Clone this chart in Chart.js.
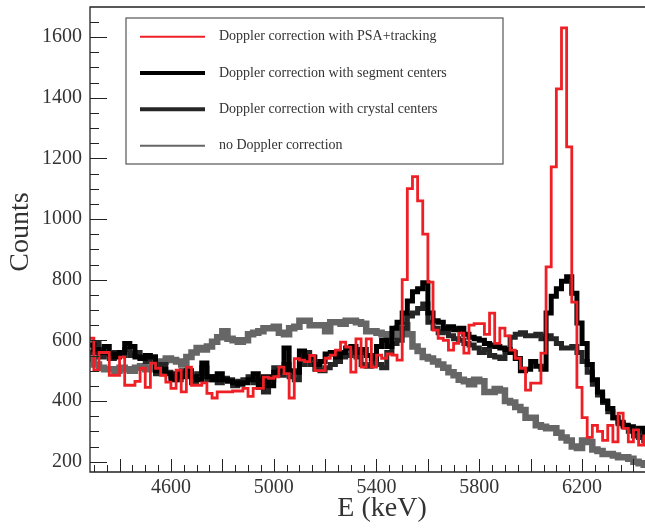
<!DOCTYPE html>
<html>
<head>
<meta charset="utf-8">
<script src="https://cdn.jsdelivr.net/npm/chart.js@4.4.0/dist/chart.umd.min.js"></script>
<style>
  html, body { margin: 0; padding: 0; background: #fff; }
  #wrap { width: 645px; height: 529px; }
</style>
</head>
<body>
<div id="wrap"><canvas id="myChart" width="645" height="529"></canvas></div>
<script>
// histogram binning (keV)
const binStart = 4280;
const binWidth = 20;

const labels = [
    'Doppler correction with PSA+tracking',
    'Doppler correction with segment centers',
    'Doppler correction with crystal centers',
    'no Doppler correction'
];

const psaCounts = [
    607, 502, 560, 560, 485, 485, 545, 452, 452, 465,
    508, 445, 525, 508, 485, 462, 442, 502, 430, 512,
    452, 452, 460, 425, 410, 430, 430, 430, 433, 433,
    442, 415, 442, 442, 479, 475, 480, 512, 490, 410,
    540, 535, 530, 550, 500, 500, 541, 551, 568, 594,
    578, 495, 605, 512, 605, 512, 551, 541, 555, 551,
    535, 800, 1100, 1140, 1060, 950, 792, 634, 607, 600,
    568, 590, 624, 558, 650, 655, 655, 620, 690, 590,
    640, 615, 568, 541, 508, 436, 459, 459, 558, 842,
    1172, 1429, 1630, 1238, 726, 445, 345, 280, 320, 300,
    270, 320, 265, 360, 310, 265, 305, 255, 285
];

const segmentCounts = [
    585, 570, 560, 580, 555, 545, 560, 590, 580, 545,
    540, 550, 545, 500, 505, 490, 470, 490, 480, 500,
    480, 470, 525, 480, 470, 490, 470, 465, 460, 455,
    460, 470, 490, 445, 480, 450, 495, 500, 575, 500,
    495, 565, 540, 545, 520, 530, 555, 560, 545, 560,
    575, 580, 560, 570, 550, 540, 580, 600, 580, 640,
    660, 690, 730, 760, 770, 790, 690, 665, 660, 640,
    645, 635, 640, 620, 610, 605, 600, 590, 585, 580,
    575, 570, 560, 540, 500, 505, 530, 515, 505, 690,
    745, 770, 795, 810, 755, 657, 590, 520, 470, 430,
    400, 375, 345, 330, 320, 315, 300, 310, 290
];

const crystalCounts = [
    560, 590, 545, 555, 540, 560, 550, 570, 550, 560,
    540, 530, 545, 490, 520, 495, 480, 470, 500, 485,
    460, 490, 510, 470, 480, 460, 475, 470, 450, 465,
    470, 480, 460, 470, 430, 470, 510, 485, 520, 480,
    470, 520, 560, 520, 505, 500, 510, 520, 530, 545,
    550, 560, 545, 520, 515, 530, 520, 510, 560, 590,
    600, 640, 680, 690, 705, 720, 660, 640, 625, 630,
    615, 605, 600, 590, 585, 575, 560, 570, 550, 545,
    540, 560, 610, 620, 625, 615, 615, 620, 605, 615,
    605, 590, 575, 575, 580, 560, 530, 495, 455, 420,
    395, 365, 345, 325, 315, 300, 285, 280, 270
];

const noDopplerCounts = [
    540, 520, 510, 505, 505, 500, 510, 505, 500, 510,
    515, 505, 510, 520, 530, 540, 535, 530, 520, 545,
    560, 575, 570, 580, 595, 610, 630, 605, 600, 595,
    600, 620, 625, 630, 640, 640, 645, 625, 620, 640,
    645, 665, 665, 650, 650, 650, 630, 660, 660, 655,
    665, 665, 660, 655, 630, 630, 625, 620, 610, 610,
    640, 650, 620, 580, 565, 545, 540, 530, 520, 510,
    495, 485, 470, 465, 455, 470, 465, 430, 430, 440,
    435, 400, 395, 380, 370, 345, 345, 320, 315, 310,
    310, 295, 280, 270, 250, 245, 270, 265, 240, 235,
    225, 225, 220, 215, 215, 210, 200, 195, 190
];

const xTickLabels = [4600, 5000, 5400, 5800, 6200];
const yTickLabels = [200, 400, 600, 800, 1000, 1200, 1400, 1600];

const colors = ['#ee2026', '#000000', '#262626', '#666666'];
const widths = [2.8, 5, 5, 6.5];
const legendWidths = [2, 4, 4, 2];

function histPoints(counts) {
    const pts = counts.map((c, i) => ({ x: binStart + i * binWidth, y: c }));
    pts.push({ x: binStart + counts.length * binWidth, y: counts[counts.length - 1] });
    return pts;
}

const serif = '"Liberation Serif", "DejaVu Serif", serif';

// kill the automatic label overflow padding so the frame sits where ROOT put it
function noPad(scale) {
    scale.paddingTop = 0;
    scale.paddingBottom = 0;
    scale.paddingLeft = 0;
    scale.paddingRight = 0;
}

// frame, inner ticks, legend box and axis titles (ROOT style)
const rootFrame = {
    id: 'rootFrame',
    afterDraw(chart) {
        const { ctx, chartArea: a, scales: { x, y } } = chart;
        ctx.save();
        ctx.strokeStyle = '#222';
        ctx.lineWidth = 1.3;
        ctx.beginPath();
        ctx.moveTo(a.right, a.top);
        ctx.lineTo(a.left, a.top);
        ctx.lineTo(a.left, a.bottom);
        ctx.lineTo(a.right, a.bottom);
        ctx.stroke();

        ctx.lineWidth = 1;
        ctx.beginPath();
        for (let v = 4300; v <= x.max; v += 50) {
            const px = Math.round(x.getPixelForValue(v)) + 0.5;
            const len = v % 200 === 0 ? 13 : 7;
            ctx.moveTo(px, a.bottom);
            ctx.lineTo(px, a.bottom - len);
        }
        for (let v = 200; v <= y.max; v += 50) {
            const py = Math.round(y.getPixelForValue(v)) + 0.5;
            const len = v % 200 === 0 ? 17 : 9;
            ctx.moveTo(a.left, py);
            ctx.lineTo(a.left + len, py);
        }
        ctx.stroke();

        // legend
        ctx.fillStyle = '#fff';
        ctx.fillRect(126, 18, 377, 146);
        ctx.strokeStyle = '#555';
        ctx.lineWidth = 1.2;
        ctx.strokeRect(126, 18, 377, 146);
        const rows = [36.7, 73, 109.3, 145.7];
        ctx.font = '14px ' + serif;
        ctx.textBaseline = 'middle';
        ctx.textAlign = 'left';
        chart.data.datasets.forEach((ds, i) => {
            ctx.strokeStyle = ds.borderColor;
            ctx.lineWidth = legendWidths[i];
            ctx.beginPath();
            ctx.moveTo(140, rows[i]);
            ctx.lineTo(205, rows[i]);
            ctx.stroke();
            ctx.fillStyle = '#333';
            ctx.fillText(ds.label, 219, rows[i]);
        });

        // axis titles
        ctx.fillStyle = '#333';
        ctx.font = '28px ' + serif;
        ctx.textAlign = 'center';
        ctx.textBaseline = 'alphabetic';
        ctx.fillText('E (keV)', 382, 516);
        ctx.translate(28, 232);
        ctx.rotate(-Math.PI / 2);
        ctx.fillText('Counts', 0, 0);
        ctx.restore();
    }
};

const ctx = document.getElementById('myChart').getContext('2d');
new Chart(ctx, {
    type: 'line',
    data: {
        datasets: [psaCounts, segmentCounts, crystalCounts, noDopplerCounts].map((counts, i) => ({
            label: labels[i],
            data: histPoints(counts),
            borderColor: colors[i],
            borderWidth: widths[i],
            stepped: 'before',
            pointRadius: 0,
            fill: false,
            borderJoinStyle: 'miter',
            borderCapStyle: 'butt'
        }))
    },
    options: {
        responsive: false,
        animation: false,
        layout: { padding: { top: 7, right: 0, left: 0, bottom: 0 } },
        plugins: {
            legend: { display: false },
            tooltip: { enabled: false }
        },
        scales: {
            x: {
                type: 'linear',
                min: 4285,
                max: 6445,
                grid: { display: false, drawTicks: false },
                border: { display: false },
                afterBuildTicks: (scale) => { scale.ticks = xTickLabels.map(v => ({ value: v })); },
                afterFit: (scale) => { scale.height = 57; noPad(scale); },
                ticks: {
                    color: '#333',
                    font: { family: serif, size: 20 },
                    padding: 4,
                    maxRotation: 0,
                    autoSkip: false,
                    callback: (v) => String(v)
                }
            },
            y: {
                min: 166,
                max: 1699,
                grid: { display: false, drawTicks: false },
                border: { display: false },
                afterBuildTicks: (scale) => { scale.ticks = yTickLabels.map(v => ({ value: v })); },
                afterFit: (scale) => { scale.width = 90; noPad(scale); },
                ticks: {
                    color: '#333',
                    font: { family: serif, size: 20 },
                    padding: 8,
                    autoSkip: false,
                    callback: (v) => String(v)
                }
            }
        }
    },
    plugins: [rootFrame]
});
</script>
</body>
</html>
